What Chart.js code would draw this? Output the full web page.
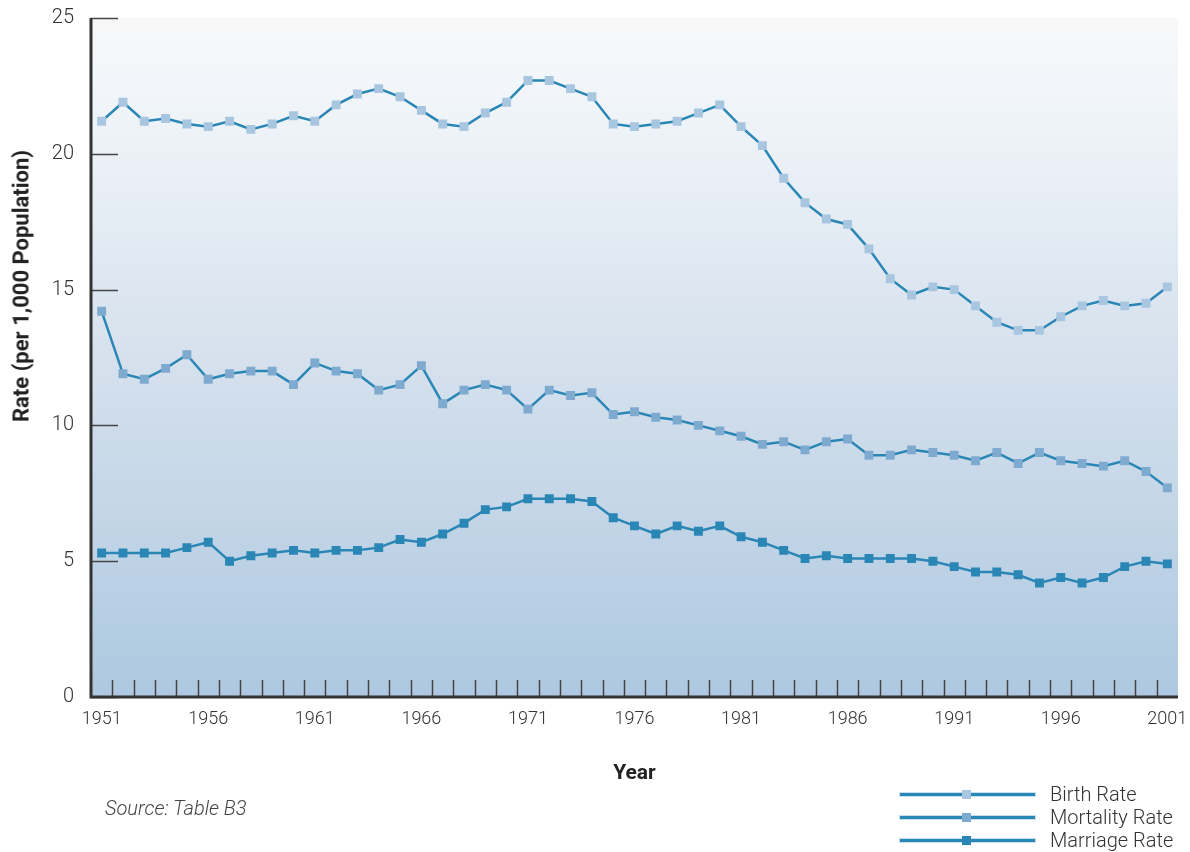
<!DOCTYPE html>
<html>
<head>
<meta charset="utf-8">
<script src="https://cdn.jsdelivr.net/npm/chart.js@4"></script>
<style>
  body { margin: 0; background: #fff; font-family: Roboto, "Noto Sans", sans-serif; }
  #wrap { position: relative; width: 1190px; height: 852px; }
  #source { position: absolute; left: 105px; top: 796px; font-size: 20px; font-style: italic; color: #444; font-weight: 300; }
  #tituloY { position: absolute; left: 21px; top: 286px; transform: translate(-50%, -50%) rotate(-90deg); white-space: nowrap; font-size: 22px; font-weight: bold; color: #222; }
  .leg { position: absolute; left: 900px; width: 290px; height: 22px; }
  .leg .ln { position: absolute; left: 0; top: 9px; width: 135px; height: 3px; background: #2a86b5; box-shadow: 0 0 0 1px rgba(160,200,225,0.6); }
  .leg .mk { position: absolute; left: 62px; top: 6px; width: 9px; height: 9px; }
  .leg .tx { position: absolute; left: 150px; top: -2px; font-size: 20px; font-weight: 300; color: #333; }
</style>
</head>
<body>
<div id="wrap">
  <canvas id="chart" width="1190" height="852"></canvas>
  <div id="tituloY">Rate (per 1,000 Population)</div>
  <div id="source">Source: Table B3</div>
  <div id="legend"></div>
</div>
<script>
// === Datos ===
const anios = [];
for (let y = 1951; y <= 2001; y++) anios.push(String(y));

const natalidad = [21.2, 21.9, 21.2, 21.3, 21.1, 21.0, 21.2, 20.9, 21.1, 21.4,
                   21.2, 21.8, 22.2, 22.4, 22.1, 21.6, 21.1, 21.0, 21.5, 21.9,
                   22.7, 22.7, 22.4, 22.1, 21.1, 21.0, 21.1, 21.2, 21.5, 21.8,
                   21.0, 20.3, 19.1, 18.2, 17.6, 17.4, 16.5, 15.4, 14.8, 15.1,
                   15.0, 14.4, 13.8, 13.5, 13.5, 14.0, 14.4, 14.6, 14.4, 14.5,
                   15.1];
const mortalidad = [14.2, 11.9, 11.7, 12.1, 12.6, 11.7, 11.9, 12.0, 12.0, 11.5,
                    12.3, 12.0, 11.9, 11.3, 11.5, 12.2, 10.8, 11.3, 11.5, 11.3,
                    10.6, 11.3, 11.1, 11.2, 10.4, 10.5, 10.3, 10.2, 10.0, 9.8,
                    9.6, 9.3, 9.4, 9.1, 9.4, 9.5, 8.9, 8.9, 9.1, 9.0,
                    8.9, 8.7, 9.0, 8.6, 9.0, 8.7, 8.6, 8.5, 8.7, 8.3,
                    7.7];
const matrimonio = [5.3, 5.3, 5.3, 5.3, 5.5, 5.7, 5.0, 5.2, 5.3, 5.4,
                    5.3, 5.4, 5.4, 5.5, 5.8, 5.7, 6.0, 6.4, 6.9, 7.0,
                    7.3, 7.3, 7.3, 7.2, 6.6, 6.3, 6.0, 6.3, 6.1, 6.3,
                    5.9, 5.7, 5.4, 5.1, 5.2, 5.1, 5.1, 5.1, 5.1, 5.0,
                    4.8, 4.6, 4.6, 4.5, 4.2, 4.4, 4.2, 4.4, 4.8, 5.0,
                    4.9];
const etiquetasY = [0, 5, 10, 15, 20, 25];

const colorLinea = '#2a86b5';
const series = [
    { label: 'Birth Rate', data: natalidad, marker: '#a9c6e0' },
    { label: 'Mortality Rate', data: mortalidad, marker: '#7faad0' },
    { label: 'Marriage Rate', data: matrimonio, marker: '#2a86b5' }
];

// Fondo degradado y marcas hacia dentro
const fondoPlugin = {
    id: 'fondo',
    beforeDatasetsDraw(chart) {
        const { ctx, chartArea: a, scales } = chart;
        const g = ctx.createLinearGradient(0, a.top, 0, a.bottom);
        g.addColorStop(0, '#f8f8f8');
        g.addColorStop(0.1, '#f2f6fa');
        g.addColorStop(0.5, '#d6e1ed');
        g.addColorStop(1, '#adc8e0');
        ctx.save();
        ctx.fillStyle = g;
        ctx.fillRect(a.left, a.top, a.right - a.left, a.bottom - a.top);

        ctx.strokeStyle = '#444';
        ctx.lineWidth = 1.5;
        etiquetasY.forEach(v => {
            const y = Math.round(scales.y.getPixelForValue(v)) + 0.5;
            ctx.beginPath();
            ctx.moveTo(a.left, y);
            ctx.lineTo(a.left + 27, y);
            ctx.stroke();
        });
        const paso = scales.x.getPixelForTick(1) - scales.x.getPixelForTick(0);
        for (let i = 0; i < anios.length; i++) {
            const x = Math.round(scales.x.getPixelForTick(i) + paso / 2) + 0.5;
            if (x >= a.right - 2) continue;
            ctx.beginPath();
            ctx.moveTo(x, a.bottom);
            ctx.lineTo(x, a.bottom - 17);
            ctx.stroke();
        }

        ctx.strokeStyle = '#333';
        ctx.lineWidth = 3;
        ctx.beginPath();
        ctx.moveTo(a.left, a.top);
        ctx.lineTo(a.left, a.bottom);
        ctx.lineTo(a.right, a.bottom);
        ctx.stroke();
        ctx.restore();
    }
};

const chart = new Chart(document.getElementById('chart'), {
    type: 'line',
    data: {
        labels: anios,
        datasets: series.map(s => ({
            label: s.label,
            data: s.data,
            borderColor: colorLinea,
            borderWidth: 2.5,
            tension: 0,
            pointStyle: 'rect',
            pointRadius: 6.3,
            pointBackgroundColor: s.marker,
            pointBorderWidth: 0,
            pointHoverRadius: 6.3
        }))
    },
    options: {
        responsive: false,
        animation: false,
        layout: { padding: { top: 18, right: 12, left: 0, bottom: 0 } },
        scales: {
            x: {
                offset: true,
                grid: { display: false, drawTicks: false },
                border: { display: false },
                ticks: {
                    autoSkip: false, maxRotation: 0, padding: 12,
                    color: '#333', font: { family: 'Roboto', size: 18, weight: 300 },
                    callback: (v, i) => (i % 5 === 0 ? anios[i] : '')
                },
                title: {
                    display: true, text: 'Year', color: '#222',
                    font: { family: 'Roboto', size: 21, weight: 'bold' },
                    padding: { top: 28, bottom: 66 }
                },
                afterFit: s => {
                    s.height = 155;
                    s.paddingLeft = 0;
                    s.paddingRight = 0;
                }
            },
            y: {
                min: 0, max: 25,
                grid: { display: false, drawTicks: false },
                border: { display: false },
                ticks: {
                    stepSize: 5, padding: 17,
                    color: '#333', font: { family: 'Roboto', size: 20, weight: 300 }
                },
                afterFit: s => {
                    s.width = 91;
                    s.paddingTop = 0;
                    s.paddingBottom = 0;
                }
            }
        },
        plugins: {
            legend: { display: false },
            tooltip: { enabled: false }
        }
    },
    plugins: [fondoPlugin]
});

// Leyenda
const leyenda = document.getElementById('legend');
series.forEach((s, i) => {
    const d = document.createElement('div');
    d.className = 'leg';
    d.style.top = (784 + i * 23) + 'px';
    d.innerHTML = `<div class="ln"></div><div class="mk" style="background:${s.marker}"></div><div class="tx">${s.label}</div>`;
    leyenda.appendChild(d);
});
</script>
</body>
</html>
